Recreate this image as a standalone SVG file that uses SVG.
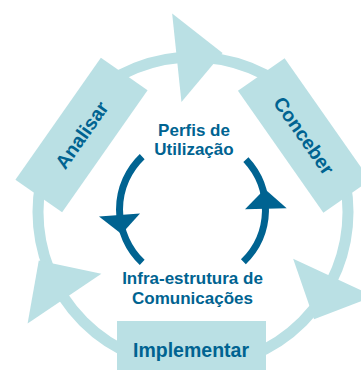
<svg xmlns="http://www.w3.org/2000/svg" width="361" height="370" viewBox="0 0 361 370">
<style>
.ring{fill:none;stroke:#BAE0E4;stroke-width:11}
.lt{fill:#BAE0E4}
.inner{fill:none;stroke:#006391;stroke-width:7}
.dk{fill:#006391}
text{font-family:"Liberation Sans",Arial,sans-serif;font-weight:bold;fill:#006391;text-anchor:middle}
.big{font-size:19.5px}
.sm{font-size:17px}
</style>
<defs>
<path id="tri" d="M110.5,0 L199.5,0 L155,46 Z"/>
</defs>
<g id="connectors">
<circle class="ring" cx="193" cy="212" r="155"/>
<use href="#tri" class="lt" transform="translate(193,212) rotate(264)"/>
<use href="#tri" class="lt" transform="translate(193,212) rotate(146)"/>
<use href="#tri" class="lt" transform="translate(193,212) rotate(25)"/>
<path class="inner" d="M142.2,156.6 A73,73 0 0 0 142.2,262.4"/>
<path class="inner" d="M245.9,159.7 A73,73 0 0 1 243.4,261.8"/>
<polygon class="dk" points="99,216.5 140,213.5 121.5,234"/>
<polygon class="dk" points="245,209.3 286.7,208.3 264.8,189"/>
</g>
<g id="analisar" transform="translate(81.5,135) rotate(-55)">
<rect class="lt" x="-74.5" y="-28.5" width="149" height="57"/>
<text class="big" x="0" y="7">Analisar</text>
</g>
<g id="conceber" transform="translate(304,135.5) rotate(55)">
<rect class="lt" x="-74.5" y="-28.5" width="149" height="57"/>
<text class="big" x="0" y="7">Conceber</text>
</g>
<g id="implementar">
<rect class="lt" x="117" y="321" width="149" height="57"/>
<text class="big" x="191" y="356.5">Implementar</text>
</g>
<g id="perfis">
<text class="sm" x="194" y="136">Perfis de</text>
<text class="sm" x="194" y="155">Utilização</text>
</g>
<g id="infra">
<text class="sm" x="192.5" y="284">Infra-estrutura de</text>
<text class="sm" x="192.5" y="303.5">Comunicações</text>
</g>
</svg>
